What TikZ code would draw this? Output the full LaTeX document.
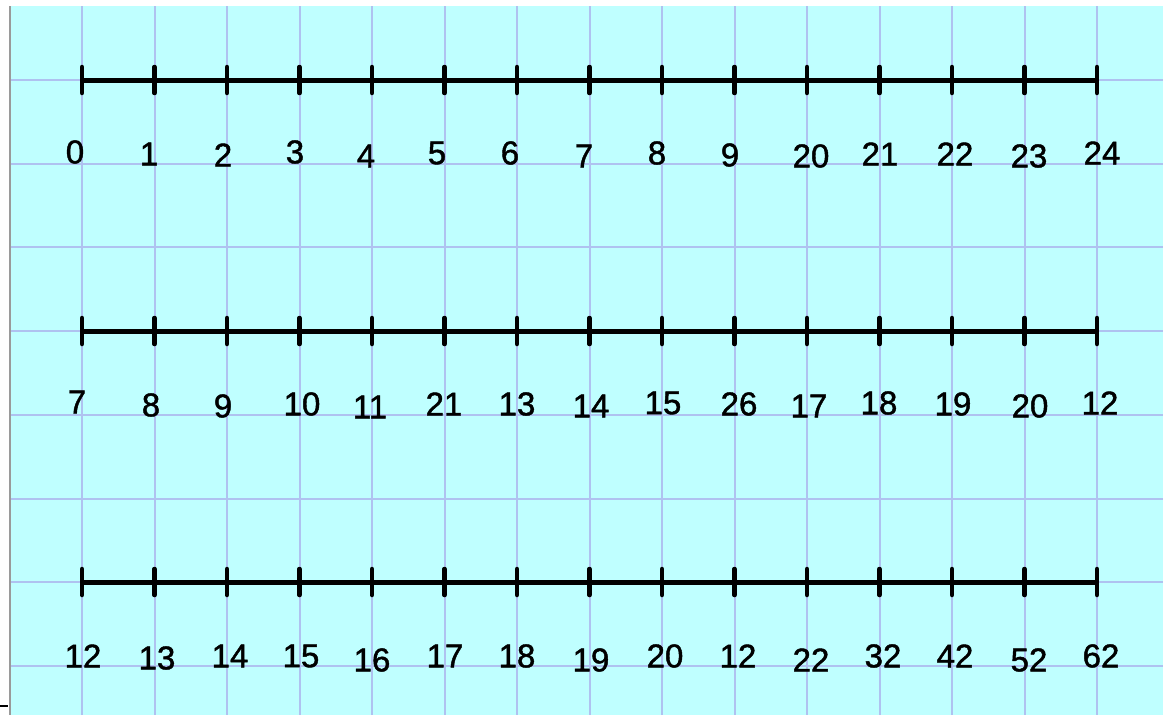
\documentclass[tikz,border=0pt]{standalone}
\usepackage{fontspec}
\setmainfont{Liberation Sans}
\newfontfamily\lblfont{Liberation Sans}[FakeBold=1.3]
\definecolor{bgcyan}{HTML}{BFFFFF}
\definecolor{gridblue}{HTML}{AFC2F0}
\definecolor{bordergray}{HTML}{9A9A9A}
\tikzset{
  gridline/.style={draw=gridblue, line width=2pt},
  numline/.style={draw=black, line width=5pt},
  tickmark/.style={draw=black, line width=4.5pt, line cap=round},
  lbl/.style={inner sep=0pt, font=\lblfont\fontsize{33}{33}\selectfont, text=black}
}
\begin{document}
\begin{tikzpicture}[x=1pt,y=-1pt]
\useasboundingbox (0,0) rectangle (1163,715);
\fill[white] (0,0) rectangle (1163,715);
\fill[bgcyan] (10,6) rectangle (1163,715);
% grid
\foreach \k in {0,...,14} \draw[gridline] ({82+72.5*\k},6) -- ({82+72.5*\k},715);
\foreach \k in {0,...,7} \draw[gridline] (10,{80+83.7*\k}) -- (1163,{80+83.7*\k});
\draw[bordergray, line width=1.5pt] (10,6) -- (10,715);
\draw[black, line width=2pt] (0,706) -- (8,706);
% number lines
\foreach \r/\yy in {1/80,2/331,3/582}{
  \coordinate (L\r s) at (82,\yy);
  \coordinate (L\r e) at (1097,\yy);
  \draw[numline] (L\r s) -- (L\r e);
  \foreach \k in {0,...,14}{
    \coordinate (T\r-\k a) at ({82+72.5*\k},\yy-13);
    \coordinate (T\r-\k b) at ({82+72.5*\k},\yy+13);
    \draw[tickmark] (T\r-\k a) -- (T\r-\k b);
  }
}
% labels
\foreach \x/\y/\t [count=\i] in {75/152/0, 149/154/1, 223/155/2, 295/152/3, 366/156/4, 437/153/5, 510/153/6, 584/156/7, 657/153/8, 730/155/9, 811/156/20, 880/154/21, 955/154/22, 1029/156/23, 1102/153/24}
  \node[lbl] (a\i) at (\x,\y) {\t};
\foreach \x/\y/\t [count=\i] in {77/402/7, 151/405/8, 223/406/9, 302/404/10, 370/407/11, 444/404/21, 517/404/13, 591/406/14, 663/403/15, 739/404/26, 809/406/17, 879/403/18, 953/404/19, 1030/406/20, 1100/403/12}
  \node[lbl] (b\i) at (\x,\y) {\t};
\foreach \x/\y/\t [count=\i] in {83/656/12, 157/658/13, 230/656/14, 301/656/15, 372/660/16, 445/656/17, 517/656/18, 591/660/19, 665/656/20, 738/656/12, 811/660/22, 883/656/32, 955/656/42, 1029/660/52, 1101/656/62}
  \node[lbl] (c\i) at (\x,\y) {\t};
\end{tikzpicture}
\end{document}
